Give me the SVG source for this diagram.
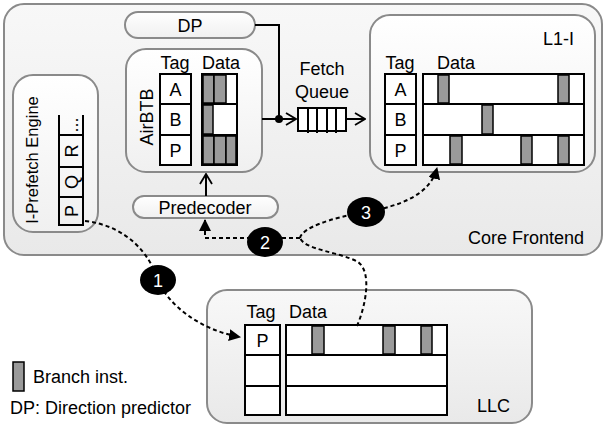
<svg xmlns="http://www.w3.org/2000/svg" width="606" height="427" viewBox="0 0 606 427">
<defs>
<linearGradient id="gOuter" x1="0" y1="0" x2="0" y2="1"><stop offset="0" stop-color="#f8f8f8"/><stop offset="1" stop-color="#e9e9e9"/></linearGradient>
<linearGradient id="gInner" x1="0" y1="0" x2="0" y2="1"><stop offset="0" stop-color="#ffffff"/><stop offset="1" stop-color="#f0f0f0"/></linearGradient>
<marker id="tri" markerUnits="userSpaceOnUse" markerWidth="12" markerHeight="12" viewBox="0 0 12 12" refX="11" refY="6" orient="auto"><path d="M0,0 L12,6 L0,12 Z" fill="#000"/></marker>
<marker id="open" markerUnits="userSpaceOnUse" markerWidth="12" markerHeight="14" viewBox="0 0 12 14" refX="11" refY="7" orient="auto"><path d="M1,1 L11,7 L1,13" fill="none" stroke="#000" stroke-width="1.8"/></marker>
</defs>
<style>
.box{fill:url(#gOuter);stroke:#8a8a8a;stroke-width:2}
.ibox{fill:url(#gInner);stroke:#8a8a8a;stroke-width:2}
.cell{fill:#fff;stroke:#000;stroke-width:2}
.br{fill:#9a9a9a;stroke:#000;stroke-width:1.5}
.t{font-family:"Liberation Sans",Arial,sans-serif;font-size:18px;fill:#000}
.c{text-anchor:middle}
.w{fill:#fff}
.dash{fill:none;stroke:#000;stroke-width:2;stroke-dasharray:4 3}
.solid{fill:none;stroke:#000;stroke-width:2}
.num{fill:#000}
</style>

<g id="core-frontend">
<rect class="box" x="4" y="4" width="598" height="251" rx="20"/>
<text class="t" x="584" y="244" text-anchor="end">Core Frontend</text>
</g>

<g id="dp">
<rect class="ibox" x="125" y="12" width="130" height="26" rx="13"/>
<text class="t c" x="190" y="32">DP</text>
</g>

<g id="airbtb">
<rect class="ibox" x="126" y="49" width="136" height="123" rx="20"/>
<text class="t c" transform="translate(153,117) rotate(-90)">AirBTB</text>
<text class="t c" x="175" y="69">Tag</text>
<text class="t c" x="221" y="69">Data</text>
<rect class="cell" x="160" y="74" width="31" height="30"/>
<rect class="cell" x="160" y="104" width="31" height="31"/>
<rect class="cell" x="160" y="135" width="31" height="30"/>
<text class="t c" x="175.5" y="96">A</text>
<text class="t c" x="175.5" y="126">B</text>
<text class="t c" x="175.5" y="157">P</text>
<rect class="cell" x="202" y="74" width="35" height="30"/>
<rect class="cell" x="202" y="104" width="35" height="31"/>
<rect class="cell" x="202" y="135" width="35" height="30"/>
<rect class="br" x="203" y="75" width="11" height="28"/>
<rect class="br" x="214" y="75" width="12" height="28"/>
<rect class="br" x="203" y="105" width="10" height="29"/>
<rect class="br" x="203" y="136" width="11" height="28"/>
<rect class="br" x="214" y="136" width="12" height="28"/>
<rect class="br" x="226" y="136" width="10" height="28"/>
</g>

<g id="predecoder">
<rect class="ibox" x="133" y="196" width="145" height="22" rx="11"/>
<text class="t c" x="205" y="214">Predecoder</text>
</g>

<g id="fetch-queue">
<text class="t c" x="322" y="75">Fetch</text>
<text class="t c" x="322" y="98">Queue</text>
<rect class="cell" x="298" y="108" width="48" height="23"/>
<line class="solid" x1="308" y1="108" x2="308" y2="133"/>
<line class="solid" x1="317" y1="108" x2="317" y2="133"/>
<line class="solid" x1="327" y1="108" x2="327" y2="133"/>
<line class="solid" x1="336" y1="108" x2="336" y2="133"/>
</g>

<g id="l1i">
<rect class="ibox" x="370" y="15" width="225" height="157" rx="20"/>
<text class="t" x="543" y="45">L1-I</text>
<text class="t c" x="400" y="69">Tag</text>
<text class="t" x="437" y="69">Data</text>
<rect class="cell" x="385" y="74" width="31" height="30"/>
<rect class="cell" x="385" y="104" width="31" height="31"/>
<rect class="cell" x="385" y="135" width="31" height="30"/>
<text class="t c" x="400.5" y="96">A</text>
<text class="t c" x="400.5" y="126">B</text>
<text class="t c" x="400.5" y="157">P</text>
<rect class="cell" x="423" y="74" width="161" height="30"/>
<rect class="cell" x="423" y="104" width="161" height="31"/>
<rect class="cell" x="423" y="135" width="161" height="30"/>
<rect class="br" x="438" y="75" width="11" height="28"/>
<rect class="br" x="558" y="75" width="11" height="28"/>
<rect class="br" x="482" y="105" width="11" height="29"/>
<rect class="br" x="450" y="136" width="12" height="28"/>
<rect class="br" x="521" y="136" width="11" height="28"/>
<rect class="br" x="558" y="136" width="11" height="28"/>
</g>

<g id="iprefetch">
<rect class="ibox" x="13" y="75" width="85" height="157" rx="20"/>
<text class="t c" style="font-size:16.5px" transform="translate(38,160) rotate(-90)">I-Prefetch Engine</text>
<line class="solid" x1="59" y1="115" x2="59" y2="226"/>
<line class="solid" x1="83" y1="115" x2="83" y2="226"/>
<line class="solid" x1="59" y1="135" x2="83" y2="135"/>
<line class="solid" x1="59" y1="167" x2="83" y2="167"/>
<line class="solid" x1="59" y1="197" x2="83" y2="197"/>
<line class="solid" x1="59" y1="225" x2="83" y2="225"/>
<text class="t c" transform="translate(78,211) rotate(-90)">P</text>
<text class="t c" transform="translate(78,182) rotate(-90)">Q</text>
<text class="t c" transform="translate(78,151) rotate(-90)">R</text>
<text class="t c" transform="translate(78,125) rotate(-90)">...</text>
</g>

<g id="llc">
<rect class="box" x="207" y="290" width="325" height="133" rx="20"/>
<text class="t" x="477" y="412">LLC</text>
<text class="t c" x="261" y="318">Tag</text>
<text class="t" x="289" y="318">Data</text>
<rect class="cell" x="245" y="325" width="35" height="30"/>
<rect class="cell" x="245" y="355" width="35" height="31"/>
<rect class="cell" x="245" y="386" width="35" height="29"/>
<text class="t c" x="262.5" y="347">P</text>
<rect class="cell" x="286" y="325" width="161" height="30"/>
<rect class="cell" x="286" y="355" width="161" height="31"/>
<rect class="cell" x="286" y="386" width="161" height="29"/>
<rect class="br" x="312" y="326" width="12" height="28"/>
<rect class="br" x="383" y="326" width="12" height="28"/>
<rect class="br" x="421" y="326" width="11" height="28"/>
</g>

<g id="legend">
<rect class="br" x="13" y="362" width="11" height="29" stroke="#333"/>
<text class="t" x="33" y="383">Branch inst.</text>
<text class="t" x="10" y="414">DP: Direction predictor</text>
</g>

<g id="connectors">
<polyline class="solid" points="255,25 279,25 279,119"/>
<line class="solid" x1="262" y1="119" x2="296" y2="119" marker-end="url(#open)"/>
<circle cx="279" cy="119" r="4" fill="#000"/>
<line class="solid" x1="346" y1="119" x2="365" y2="119" marker-end="url(#open)"/>
<line class="solid" x1="206" y1="196" x2="206" y2="174" marker-end="url(#open)"/>
<path class="dash" d="M85,221 C128,226 150,255 158,280 C168,305 200,330 240,337" marker-end="url(#tri)"/>
<path class="dash" d="M357,326 C366,305 372,272 358,262 C340,252 305,250 300,238"/>
<path class="dash" d="M300,238 L205,238 L205,220" marker-end="url(#tri)"/>
<path class="dash" d="M300,238 C302,228 330,218 366,212 C400,206 430,195 437,168" marker-end="url(#tri)"/>
</g>

<g id="badge-1"><ellipse class="num" cx="158" cy="280" rx="18" ry="15"/><text class="t c w" x="158" y="287">1</text></g>
<g id="badge-2"><ellipse class="num" cx="265" cy="242" rx="18" ry="15"/><text class="t c w" x="265" y="249">2</text></g>
<g id="badge-3"><ellipse class="num" cx="366" cy="212" rx="19" ry="15"/><text class="t c w" x="366" y="219">3</text></g>
</svg>
